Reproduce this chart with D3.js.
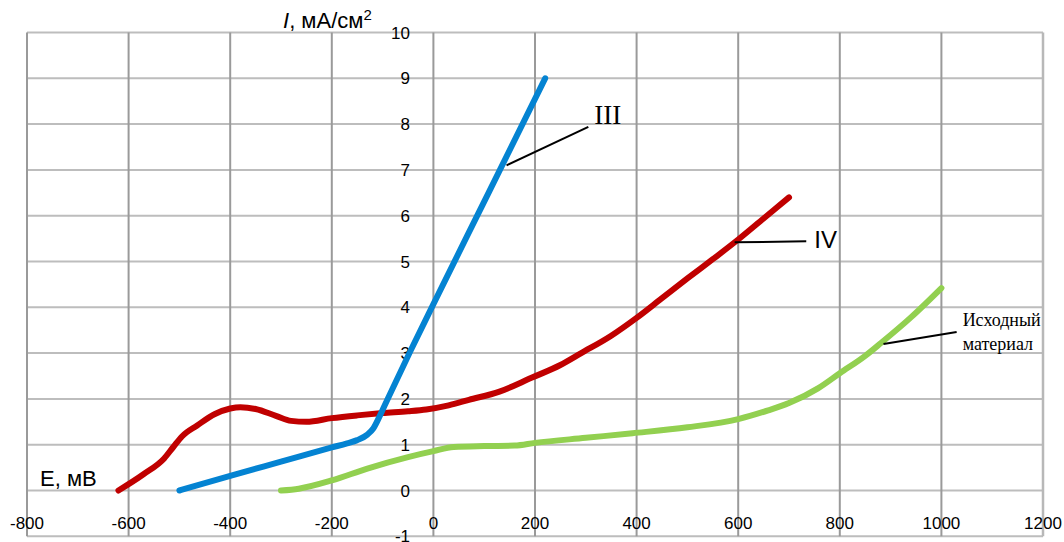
<!DOCTYPE html>
<html>
<head>
<meta charset="utf-8">
<script src="https://cdn.jsdelivr.net/npm/d3@7"></script>
<style>
  html, body { margin: 0; padding: 0; background: #fff; }
  svg { display: block; }
</style>
</head>
<body>
<svg id="chart" width="1064" height="542"></svg>
<script>
// Potential E (mV) vs current density I (mA/cm²)
const xTicks = [-800, -600, -400, -200, 0, 200, 400, 600, 800, 1000, 1200];
const yTicks = [-1, 0, 1, 2, 3, 4, 5, 6, 7, 8, 9, 10];

const seriesIII = [
  [-500, 0], [-400, 0.32], [-300, 0.63], [-200, 0.94], [-170, 1.03], [-150, 1.1],
  [-130, 1.22], [-118, 1.36], [-105, 1.64], [-90, 2.0], [-45, 3.05],
  [0, 4.07], [110, 6.53], [220, 9.0]
];

const seriesIV = [
  [-620, 0], [-570, 0.36], [-530, 0.7], [-512, 0.95], [-495, 1.18], [-465, 1.42],
  [-430, 1.67], [-400, 1.79], [-380, 1.82], [-350, 1.78], [-310, 1.63], [-280, 1.52],
  [-250, 1.5], [-200, 1.58], [-150, 1.64], [-100, 1.69], [-50, 1.73], [-14, 1.77],
  [30, 1.86], [70, 1.98], [130, 2.16], [193, 2.46], [250, 2.74], [291, 3.0],
  [350, 3.38], [400, 3.77], [450, 4.2], [500, 4.63], [550, 5.05], [600, 5.48],
  [650, 5.94], [700, 6.4]
];

const seriesBase = [
  [-300, 0], [-265, 0.04], [-200, 0.22], [-130, 0.48], [-50, 0.73], [0, 0.86],
  [40, 0.95], [100, 0.97], [160, 0.98], [200, 1.04], [300, 1.15], [392, 1.25],
  [500, 1.38], [600, 1.56], [659, 1.75], [700, 1.91], [757, 2.23], [800, 2.56],
  [850, 2.94], [881, 3.22], [940, 3.78], [1000, 4.42]
];

// Leader lines: [point on the curve, label end] in data units
const leaderIII = [[144, 7.1], [305, 7.94]];
const leaderIV = [[593, 5.42], [734, 5.44]];
const leaderBase = [[886, 3.2], [1030, 3.46]];

const svg = d3.select("#chart");

const x = d3.scaleLinear().domain([-800, 1200]).range([27, 1043]);
const y = d3.scaleLinear().domain([0, 10]).range([490.5, 32.5]);

// Grid
const grid = svg.append("g");
grid.selectAll("line.h").data(yTicks).join("line")
  .attr("x1", x(-800)).attr("x2", x(1200))
  .attr("y1", d => y(d)).attr("y2", d => y(d))
  .attr("stroke", "#bdbdbd").attr("stroke-width", 2);
grid.selectAll("line.v").data(xTicks).join("line")
  .attr("y1", y(10)).attr("y2", y(-1))
  .attr("x1", d => x(d)).attr("x2", d => x(d))
  .attr("stroke", d => d === 1200 ? "#b8b8b8" : "#9a9a9a")
  .attr("stroke-width", d => d === 1200 ? 2.5 : 2);

// Tick labels
const sans = "'Liberation Sans', Arial, sans-serif";
svg.append("g").selectAll("text").data(xTicks).join("text")
  .attr("x", d => x(d)).attr("y", 529)
  .attr("text-anchor", "middle")
  .attr("font-family", sans).attr("font-size", 17).attr("fill", "#000")
  .text(d => d);
svg.append("g").selectAll("text").data(yTicks).join("text")
  .attr("x", 410).attr("y", d => y(d) + 6)
  .attr("text-anchor", "end")
  .attr("font-family", sans).attr("font-size", 17).attr("fill", "#000")
  .text(d => d);

// Axis titles
const yTitle = svg.append("text")
  .attr("x", 283).attr("y", 28)
  .attr("font-family", sans).attr("font-size", 22).attr("fill", "#000");
yTitle.append("tspan").attr("font-style", "italic").text("I");
yTitle.append("tspan").text(", мА/см");
yTitle.append("tspan").attr("font-size", 15).attr("dy", -8).text("2");

svg.append("text")
  .attr("x", 40).attr("y", 486)
  .attr("font-family", sans).attr("font-size", 22).attr("fill", "#000")
  .text("E, мВ");

// Curves
const line = d3.line().x(d => x(d[0])).y(d => y(d[1])).curve(d3.curveMonotoneX);
const curves = [
  { data: seriesBase, color: "#92d050" },
  { data: seriesIV, color: "#c00000" },
  { data: seriesIII, color: "#0483d2" }
];
svg.append("g").selectAll("path").data(curves).join("path")
  .attr("d", d => line(d.data))
  .attr("fill", "none")
  .attr("stroke", d => d.color)
  .attr("stroke-width", 6)
  .attr("stroke-linecap", "round")
  .attr("stroke-linejoin", "round");

// Leaders and labels
const leaders = [leaderIII, leaderIV, leaderBase];
svg.append("g").selectAll("line").data(leaders).join("line")
  .attr("x1", d => x(d[0][0])).attr("y1", d => y(d[0][1]))
  .attr("x2", d => x(d[1][0])).attr("y2", d => y(d[1][1]))
  .attr("stroke", "#000").attr("stroke-width", 2);

const serif = "'Liberation Serif', 'Times New Roman', serif";
svg.append("text")
  .attr("x", x(leaderIII[1][0]) + 6).attr("y", y(leaderIII[1][1]) - 3)
  .attr("font-family", serif).attr("font-size", 27).attr("fill", "#000")
  .text("III");
svg.append("text")
  .attr("x", x(leaderIV[1][0]) + 8).attr("y", y(leaderIV[1][1]) + 7)
  .attr("font-family", sans).attr("font-size", 24).attr("fill", "#000")
  .text("IV");
const baseLabel = svg.append("text")
  .attr("font-family", serif).attr("font-size", 18).attr("fill", "#000");
baseLabel.append("tspan").attr("x", x(leaderBase[1][0]) + 6).attr("y", y(leaderBase[1][1]) - 6)
  .text("Исходный");
baseLabel.append("tspan").attr("x", x(leaderBase[1][0]) + 6).attr("y", y(leaderBase[1][1]) + 18)
  .text("материал");
</script>
</body>
</html>
